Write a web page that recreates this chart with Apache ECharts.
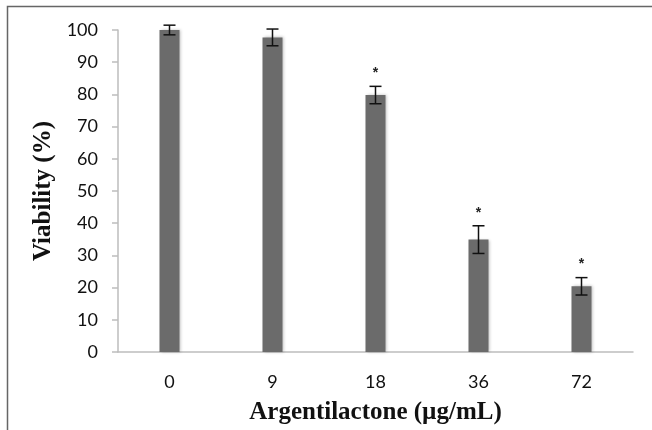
<!DOCTYPE html>
<html>
<head>
<meta charset="utf-8">
<script src="https://cdn.jsdelivr.net/npm/echarts@6/dist/echarts.min.js"></script>
<style>
html,body{margin:0;padding:0;background:#fff;}
#chart{width:652px;height:430px;}
</style>
</head>
<body>
<div id="chart"></div>
<script>
var categories = ['0', '9', '18', '36', '72'];
var viability = [100, 97.7, 79.8, 34.9, 20.4];
var errors = [1.5, 2.6, 2.7, 4.3, 2.7];
var significant = [false, false, true, true, true];
var yTicks = [0, 10, 20, 30, 40, 50, 60, 70, 80, 90, 100];

var chart = echarts.init(document.getElementById('chart'), null, {renderer: 'canvas'});

var errData = categories.map(function (c, i) {
  return [i, viability[i] - errors[i], viability[i] + errors[i], significant[i] ? 1 : 0];
});

var option = {
  animation: false,
  backgroundColor: '#ffffff',
  graphic: [{
    type: 'rect',
    shape: {x: 7.5, y: 6.5, width: 700, height: 500},
    style: {fill: 'none', stroke: '#666666', lineWidth: 1.5},
    silent: true
  }],
  grid: {left: 118, top: 30, width: 515, height: 322, containLabel: false, outerBoundsMode: 'none'},
  xAxis: {
    type: 'category',
    data: categories,
    axisLine: {show: true, lineStyle: {color: '#bdbdbd', width: 1.5}},
    axisTick: {show: false},
    axisLabel: {fontSize: 18, color: '#111', fontFamily: 'Lato', margin: 21},
    name: 'Argentilactone (µg/mL)',
    nameLocation: 'middle',
    nameGap: 48,
    nameTextStyle: {fontFamily: 'Liberation Serif', fontWeight: 'bold', fontSize: 25, color: '#111'}
  },
  yAxis: {
    type: 'value',
    min: yTicks[0],
    max: yTicks[yTicks.length - 1],
    interval: 10,
    splitLine: {show: false},
    axisLine: {show: true, lineStyle: {color: '#bdbdbd', width: 1.5}},
    axisTick: {show: true, length: 6, lineStyle: {color: '#bdbdbd', width: 1.5}},
    axisLabel: {fontSize: 18, color: '#111', fontFamily: 'Lato', margin: 20},
    name: 'Viability (%)',
    nameLocation: 'middle',
    nameGap: 50,
    nameRotate: 90,
    nameTextStyle: {fontFamily: 'Liberation Serif', fontWeight: 'bold', fontSize: 25, color: '#111'}
  },
  series: [{
    type: 'bar',
    data: viability,
    barWidth: 20,
    itemStyle: {color: '#6b6b6b', shadowColor: 'rgba(0,0,0,0.25)', shadowBlur: 3, shadowOffsetX: 1}
  }, {
    type: 'custom',
    data: errData,
    z: 10,
    renderItem: function (params, api) {
      var x = api.value(0);
      var lo = api.coord([x, api.value(1)]);
      var hi = api.coord([x, api.value(2)]);
      var hw = 6;
      var children = [
        {type: 'line', shape: {x1: lo[0], y1: lo[1], x2: hi[0], y2: hi[1]}, style: {stroke: '#111', lineWidth: 1.5}},
        {type: 'line', shape: {x1: lo[0] - hw, y1: lo[1], x2: lo[0] + hw, y2: lo[1]}, style: {stroke: '#111', lineWidth: 1.5}},
        {type: 'line', shape: {x1: hi[0] - hw, y1: hi[1], x2: hi[0] + hw, y2: hi[1]}, style: {stroke: '#111', lineWidth: 1.5}}
      ];
      if (api.value(3)) {
        children.push({type: 'text', x: hi[0], y: hi[1] - 6,
          style: {text: '*', fill: '#222', font: 'bold 14px Liberation Sans', align: 'center', verticalAlign: 'bottom'}});
      }
      return {type: 'group', children: children};
    }
  }]
};
chart.setOption(option);
</script>
</body>
</html>
